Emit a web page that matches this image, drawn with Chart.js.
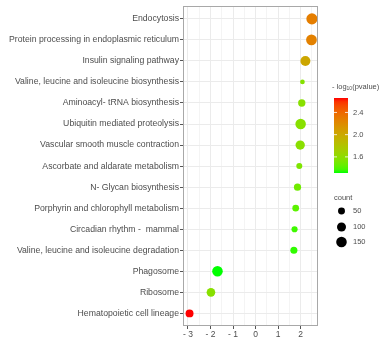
<!DOCTYPE html>
<html>
<head>
  <title>Pathway enrichment</title>
  <script src="https://cdn.jsdelivr.net/npm/chart.js"></script>
  <style>
    body { margin: 0; background: #fff; }
    canvas { display: block; }
  </style>
</head>
<body>
  <canvas id="chartCanvas" width="390" height="340"></canvas>

  <script>
    const pathways = [
      "Endocytosis",
      "Protein processing in endoplasmic reticulum",
      "Insulin signaling pathway",
      "Valine, leucine and isoleucine biosynthesis",
      "Aminoacyl- tRNA biosynthesis",
      "Ubiquitin mediated proteolysis",
      "Vascular smooth muscle contraction",
      "Ascorbate and aldarate metabolism",
      "N- Glycan biosynthesis",
      "Porphyrin and chlorophyll metabolism",
      "Circadian rhythm -  mammal",
      "Valine, leucine and isoleucine degradation",
      "Phagosome",
      "Ribosome",
      "Hematopoietic cell lineage"
    ];
    const xValues = [2.50, 2.48, 2.21, 2.08, 2.05, 2.00, 1.98, 1.94, 1.86, 1.78, 1.73, 1.70, -1.69, -1.98, -2.93];
    const logP = [2.28, 2.26, 2.02, 1.56, 1.57, 1.57, 1.58, 1.53, 1.48, 1.42, 1.36, 1.34, 1.31, 1.57, 2.66];
    const counts = [170, 155, 130, 15, 58, 148, 110, 33, 55, 44, 35, 52, 150, 90, 72];
    const xTicks = [-3, -2, -1, 0, 1, 2];
    const colorTicks = [2.4, 2.0, 1.6];
    const countTicks = [50, 100, 150];

    const pMin = Math.min(...logP), pMax = Math.max(...logP);

    // ggplot style green -> red gradient, interpolated in Lab
    function toLab(hex) {
      let c = [1, 3, 5].map(i => parseInt(hex.substr(i, 2), 16) / 255)
        .map(v => v <= 0.04045 ? v / 12.92 : Math.pow((v + 0.055) / 1.055, 2.4));
      let X = (c[0] * 0.4124 + c[1] * 0.3576 + c[2] * 0.1805) / 0.95047;
      let Y = c[0] * 0.2126 + c[1] * 0.7152 + c[2] * 0.0722;
      let Z = (c[0] * 0.0193 + c[1] * 0.1192 + c[2] * 0.9505) / 1.08883;
      const f = t => t > 0.008856 ? Math.cbrt(t) : 7.787 * t + 16 / 116;
      return [116 * f(Y) - 16, 500 * (f(X) - f(Y)), 200 * (f(Y) - f(Z))];
    }
    function fromLab(L, a, b) {
      let fy = (L + 16) / 116, fx = fy + a / 500, fz = fy - b / 200;
      const g = t => t ** 3 > 0.008856 ? t ** 3 : (t - 16 / 116) / 7.787;
      let X = g(fx) * 0.95047, Y = g(fy), Z = g(fz) * 1.08883;
      let r = X * 3.2406 - Y * 1.5372 - Z * 0.4986;
      let gg = -X * 0.9689 + Y * 1.8758 + Z * 0.0415;
      let bb = X * 0.0557 - Y * 0.2040 + Z * 1.0570;
      return "rgb(" + [r, gg, bb].map(v => {
        v = v <= 0.0031308 ? 12.92 * v : 1.055 * Math.pow(v, 1 / 2.4) - 0.055;
        return Math.round(Math.max(0, Math.min(1, v)) * 255);
      }).join(",") + ")";
    }
    const lowLab = toLab("#00ff00"), highLab = toLab("#ff0000");
    function colorAt(t) {
      return fromLab(...lowLab.map((v, i) => v + (highLab[i] - v) * t));
    }
    function pColor(p) { return colorAt((p - pMin) / (pMax - pMin)); }
    function radius(n) { return 1 + 0.35 * Math.sqrt(n); }

    const textColor = "#4d4d4d";
    const font = "Liberation Sans, Arial, sans-serif";

    const panelBorder = {
      id: "panelBorder",
      afterDraw(chart) {
        const { ctx, chartArea: a } = chart;
        ctx.save();
        ctx.strokeStyle = "#a8a8a8";
        ctx.lineWidth = 1;
        ctx.strokeRect(Math.round(a.left) + 0.5, Math.round(a.top) + 0.5,
          Math.round(a.right - a.left) - 1, Math.round(a.bottom - a.top) - 1);
        ctx.restore();
      }
    };

    const sideLegend = {
      id: "sideLegend",
      afterDraw(chart) {
        const ctx = chart.ctx;
        ctx.save();
        ctx.fillStyle = textColor;
        ctx.textBaseline = "middle";
        ctx.textAlign = "left";
        // colour bar title
        ctx.font = "7.5px " + font;
        let x = 332;
        ctx.fillText("- log", x, 87);
        x += ctx.measureText("- log").width;
        ctx.font = "5px " + font;
        ctx.fillText("10", x, 89);
        x += ctx.measureText("10").width;
        ctx.font = "7.5px " + font;
        ctx.fillText("(pvalue)", x, 87);

        const bx = 334, bw = 14, top = 98, bottom = 173;
        const grad = ctx.createLinearGradient(0, bottom, 0, top);
        for (let i = 0; i <= 20; i++) grad.addColorStop(i / 20, colorAt(i / 20));
        ctx.fillStyle = grad;
        ctx.fillRect(bx, top, bw, bottom - top);
        ctx.font = "7.5px " + font;
        colorTicks.forEach(v => {
          const y = bottom - (v - pMin) / (pMax - pMin) * (bottom - top);
          ctx.strokeStyle = "rgba(255,255,255,0.8)";
          ctx.lineWidth = 1;
          ctx.beginPath();
          ctx.moveTo(bx, y); ctx.lineTo(bx + 3, y);
          ctx.moveTo(bx + bw - 3, y); ctx.lineTo(bx + bw, y);
          ctx.stroke();
          ctx.fillStyle = textColor;
          ctx.fillText(v.toFixed(1), 353, y);
        });

        // size legend
        ctx.fillText("count", 334, 198);
        const ys = [211, 227, 242];
        countTicks.forEach((n, i) => {
          ctx.fillStyle = "#000";
          ctx.beginPath();
          ctx.arc(341.5, ys[i], radius(n), 0, Math.PI * 2);
          ctx.fill();
          ctx.fillStyle = textColor;
          ctx.fillText(String(n), 353, ys[i]);
        });
        ctx.restore();
      }
    };

    const points = pathways.map((p, i) => ({ x: xValues[i], y: i }));

    new Chart(document.getElementById("chartCanvas"), {
      type: "scatter",
      data: {
        datasets: [{
          data: points,
          pointRadius: counts.map(radius),
          pointHoverRadius: counts.map(radius),
          pointBackgroundColor: logP.map(pColor),
          pointBorderWidth: 0,
          pointBorderColor: "transparent"
        }]
      },
      options: {
        responsive: false,
        animation: false,
        layout: { padding: { top: 5, right: 72, bottom: 0, left: 0 } },
        plugins: { legend: { display: false }, tooltip: { enabled: false } },
        scales: {
          x: {
            min: -3.22,
            max: 2.77,
            afterBuildTicks: s => {
              const t = [];
              for (let v = -3; v <= 2.5; v += 0.5) t.push({ value: v });
              s.ticks = t;
            },
            afterFit: s => { s.height = 14; },
            ticks: {
              autoSkip: false,
              maxRotation: 0,
              padding: 1,
              color: textColor,
              font: { family: font, size: 8.5 },
              callback: v => xTicks.includes(v) ? (v < 0 ? "- " + Math.abs(v) : String(v)) : ""
            },
            grid: {
              color: c => Number.isInteger(c.tick.value) ? "#ebebeb" : "#f4f4f4",
              tickColor: c => Number.isInteger(c.tick.value) ? "#555" : "transparent",
              tickLength: 3,
              lineWidth: 1
            },
            border: { display: false }
          },
          y: {
            reverse: true,
            min: -0.6,
            max: 14.6,
            afterBuildTicks: s => { s.ticks = pathways.map((p, i) => ({ value: i })); },
            afterFit: s => { s.width = 183; },
            ticks: {
              autoSkip: false,
              padding: 1,
              color: textColor,
              font: { family: font, size: 8.7 },
              callback: v => pathways[v]
            },
            grid: {
              color: "#ebebeb",
              tickColor: "#555",
              tickLength: 3,
              lineWidth: 1
            },
            border: { display: false }
          }
        }
      },
      plugins: [panelBorder, sideLegend]
    });
  </script>
</body>
</html>
